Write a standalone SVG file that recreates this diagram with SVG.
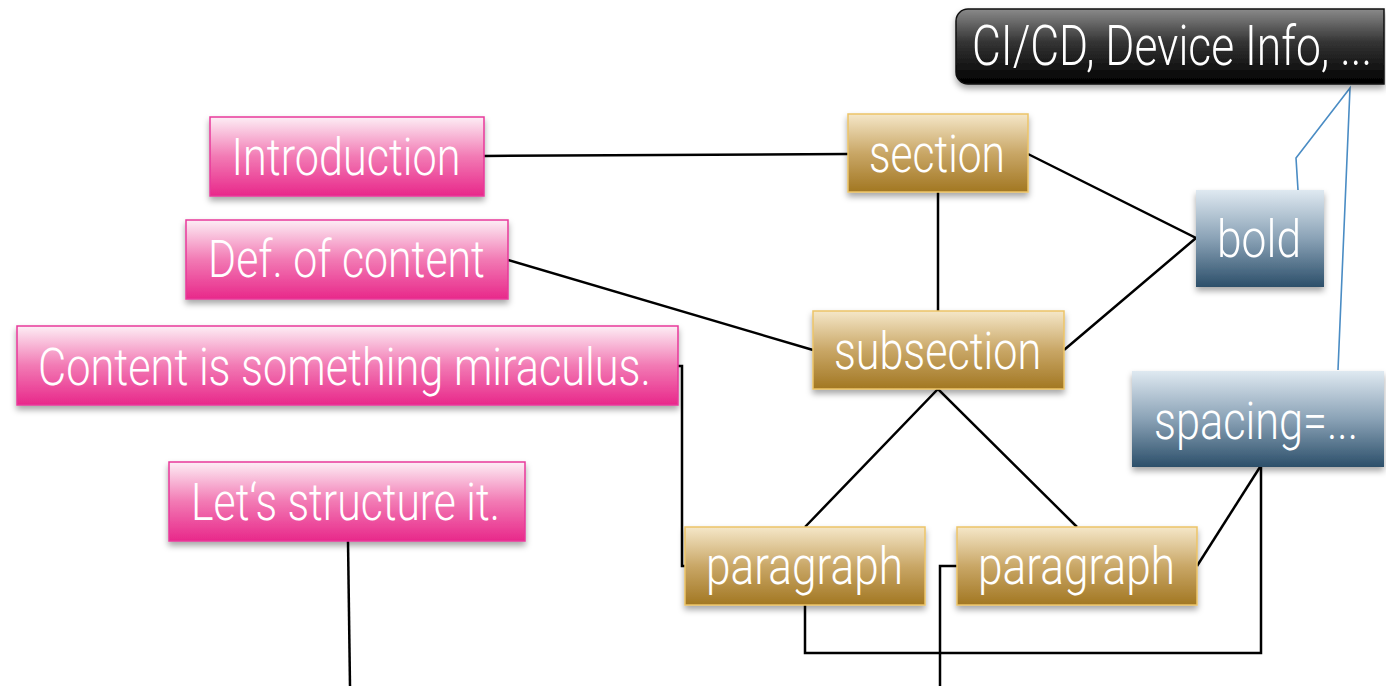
<svg xmlns="http://www.w3.org/2000/svg" width="1386" height="686" viewBox="0 0 1386 686">
<defs>
<linearGradient id="gPink" x1="0" y1="0" x2="0" y2="1"><stop offset="0" stop-color="#fdeef5"/><stop offset="0.5" stop-color="#f27ab4"/><stop offset="1" stop-color="#e8288a"/></linearGradient>
<linearGradient id="gGold" x1="0" y1="0" x2="0" y2="1"><stop offset="0" stop-color="#f5e7c8"/><stop offset="0.5" stop-color="#c9a767"/><stop offset="1" stop-color="#a27722"/></linearGradient>
<linearGradient id="gBlue" x1="0" y1="0" x2="0" y2="1"><stop offset="0" stop-color="#dfe9f1"/><stop offset="0.5" stop-color="#8aa2b6"/><stop offset="1" stop-color="#2c4f6a"/></linearGradient>
<linearGradient id="gBlack" x1="0" y1="0" x2="0" y2="1"><stop offset="0" stop-color="#8a8a8a"/><stop offset="0.45" stop-color="#333"/><stop offset="1" stop-color="#000"/></linearGradient>
<filter id="sh" x="-10%" y="-10%" width="120%" height="140%"><feDropShadow dx="0" dy="4" stdDeviation="3" flood-color="#000" flood-opacity="0.35"/></filter>
</defs>
<style>
.pink{fill:url(#gPink);stroke:#e8399a;stroke-width:1.5}
.gold{fill:url(#gGold);stroke:#ecc468;stroke-width:1.5}
.blue{fill:url(#gBlue);stroke:none}
.black{fill:url(#gBlack);stroke:#111;stroke-width:1.5}
.t{font-family:Roboto,"Liberation Sans",sans-serif;font-weight:300;font-size:52px;fill:#fff;text-anchor:middle}
.c{fill:none;stroke:#000;stroke-width:2.5}
.cb{fill:none;stroke:#4a8cc4;stroke-width:1.6}
</style>
<g id="connectors">
<line class="c" x1="484" y1="156" x2="848" y2="154"/>
<line class="c" x1="508" y1="260" x2="813" y2="350"/>
<polyline class="c" points="678,366 682,366 682,566 685,566"/>
<line class="c" x1="348" y1="541" x2="350" y2="686"/>
<line class="c" x1="938" y1="192" x2="938" y2="311"/>
<polyline class="c" points="1028,154 1196,238 1064,350"/>
<polyline class="c" points="805,527 938,389 1077,527"/>
<line class="c" x1="1197" y1="566" x2="1260" y2="467"/>
<polyline class="c" points="805,605 805,653 1261,653 1261,467"/>
<polyline class="c" points="957,566 940,566 940,686"/>
<polyline class="cb" points="1298,190 1296,158 1350,88 1338,370"/>
</g>
<g id="n-cicd"><path class="black" d="M1384,9 H968 A12,12 0 0 0 956,21 V72 A12,12 0 0 0 968,84 H1384 Z" filter="url(#sh)"/><text class="t" transform="translate(1172,65) scale(0.8,1)" x="0" y="0" style="font-size:56px" textLength="500" lengthAdjust="spacingAndGlyphs">CI/CD, Device Info, ...</text></g>
<g id="n-intro"><rect class="pink" x="210" y="117" width="274" height="79" filter="url(#sh)"/><text class="t" transform="translate(346,175) scale(0.8,1)" x="0" y="0" textLength="286" lengthAdjust="spacingAndGlyphs">Introduction</text></g>
<g id="n-def"><rect class="pink" x="186" y="220" width="322" height="79" filter="url(#sh)"/><text class="t" transform="translate(346.5,277) scale(0.8,1)" x="0" y="0" textLength="346" lengthAdjust="spacingAndGlyphs">Def. of content</text></g>
<g id="n-content"><rect class="pink" x="17" y="326" width="661" height="79" filter="url(#sh)"/><text class="t" transform="translate(344.5,385) scale(0.8,1)" x="0" y="0" textLength="766" lengthAdjust="spacingAndGlyphs">Content is something miraculus.</text></g>
<g id="n-lets"><rect class="pink" x="169" y="462" width="356" height="79" filter="url(#sh)"/><text class="t" transform="translate(345.5,520) scale(0.8,1)" x="0" y="0" textLength="386" lengthAdjust="spacingAndGlyphs">Let‘s structure it.</text></g>
<g id="n-section"><rect class="gold" x="848" y="114" width="180" height="78" filter="url(#sh)"/><text class="t" transform="translate(937,172) scale(0.8,1)" x="0" y="0" textLength="170" lengthAdjust="spacingAndGlyphs">section</text></g>
<g id="n-subsection"><rect class="gold" x="813" y="311" width="251" height="78" filter="url(#sh)"/><text class="t" transform="translate(937.5,369) scale(0.8,1)" x="0" y="0" textLength="259" lengthAdjust="spacingAndGlyphs">subsection</text></g>
<g id="n-para1"><rect class="gold" x="685" y="527" width="240" height="78" filter="url(#sh)"/><text class="t" transform="translate(804.5,584) scale(0.8,1)" x="0" y="0" textLength="246" lengthAdjust="spacingAndGlyphs">paragraph</text></g>
<g id="n-para2"><rect class="gold" x="957" y="527" width="240" height="78" filter="url(#sh)"/><text class="t" transform="translate(1076.5,584) scale(0.8,1)" x="0" y="0" textLength="246" lengthAdjust="spacingAndGlyphs">paragraph</text></g>
<g id="n-bold"><rect class="blue" x="1196" y="190" width="128" height="97" filter="url(#sh)"/><text class="t" transform="translate(1259,257) scale(0.8,1)" x="0" y="0" textLength="105" lengthAdjust="spacingAndGlyphs">bold</text></g>
<g id="n-spacing"><rect class="blue" x="1132" y="371" width="252" height="96" filter="url(#sh)"/><text class="t" transform="translate(1256,439) scale(0.8,1)" x="0" y="0" textLength="255" lengthAdjust="spacingAndGlyphs">spacing=...</text></g>
</svg>
